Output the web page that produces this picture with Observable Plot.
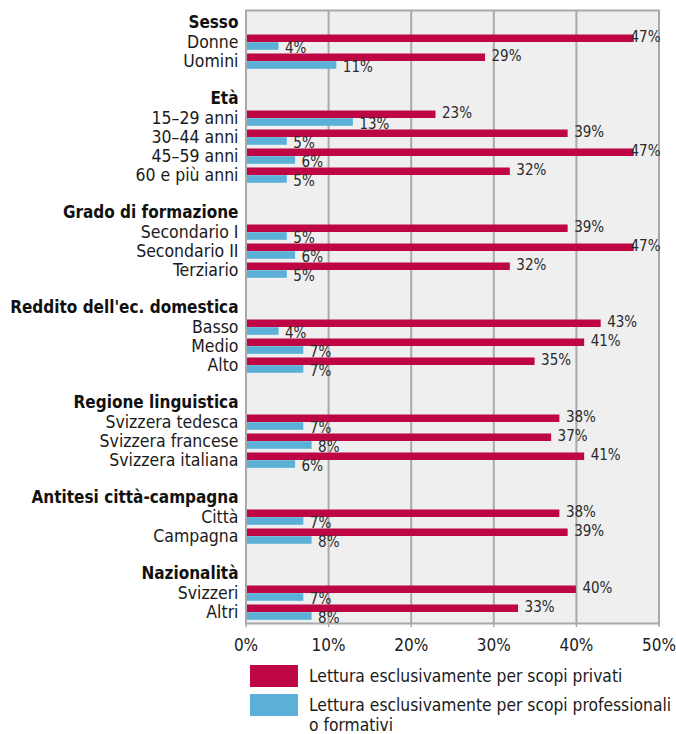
<!DOCTYPE html>
<html>
<head>
<meta charset="utf-8">
<script src="https://cdn.jsdelivr.net/npm/d3@7"></script>
<script src="https://cdn.jsdelivr.net/npm/@observablehq/plot@0.6"></script>
<style>
  html, body { margin: 0; padding: 0; background: #fff; }
  body { width: 676px; height: 734px; position: relative; overflow: hidden;
         font-family: "Liberation Sans Narrow", "DejaVu Sans Condensed", "Arial Narrow", sans-serif; color: #1a1a1a; }
  #chart { position: absolute; left: 0; top: 0; }
  .legend { position: absolute; left: 250px; font-size: 17.3px; line-height: 20px; }
  .legend .sw { position: absolute; left: 0; width: 48px; height: 22px; }
  .legend .lb { position: absolute; left: 59px; white-space: nowrap; }
</style>
</head>
<body>
<div id="chart"></div>
<div class="legend" id="legend"></div>
<script>
const groups = ["Sesso", "Età", "Grado di formazione", "Reddito dell'ec. domestica", "Regione linguistica", "Antitesi città-campagna", "Nazionalità"];
const categories = [
  ["Donne", "Uomini"],
  ["15–29 anni", "30–44 anni", "45–59 anni", "60 e più anni"],
  ["Secondario I", "Secondario II", "Terziario"],
  ["Basso", "Medio", "Alto"],
  ["Svizzera tedesca", "Svizzera francese", "Svizzera italiana"],
  ["Città", "Campagna"],
  ["Svizzeri", "Altri"]
];
const privati = [[47, 29], [23, 39, 47, 32], [39, 47, 32], [43, 41, 35], [38, 37, 41], [38, 39], [40, 33]];
const professionali = [[4, 11], [13, 5, 6, 5], [5, 6, 5], [4, 7, 7], [7, 8, 6], [7, 8], [7, 8]];
const xTicks = [0, 10, 20, 30, 40, 50];
const seriesNames = ["Lettura esclusivamente per scopi privati", "Lettura esclusivamente per scopi professionali<br>o formativi"];
const seriesColors = ["#be0644", "#5ab0d6"];

// Build slot table
const slots = [];
const headers = [];
const rows = [];
groups.forEach((g, i) => {
  const hk = "H:" + g;
  slots.push(hk);
  headers.push({key: hk, label: g});
  categories[i].forEach((c, j) => {
    const k = "C:" + g + ":" + c;
    slots.push(k);
    rows.push({key: k, label: c, priv: privati[i][j], prof: professionali[i][j]});
  });
  if (i < groups.length - 1) slots.push("S:" + i);
});

const font = "'Liberation Sans Narrow', 'DejaVu Sans Condensed', 'Arial Narrow', sans-serif";
const grid = "#a9a9a9";
const bigLabel = rows.filter(d => d.priv >= 45);
const smallLabel = rows.filter(d => d.priv < 45);

const plot = Plot.plot({
  width: 676,
  height: 660,
  marginTop: 10,
  marginBottom: 37,
  marginLeft: 245.5,
  marginRight: 17.5,
  style: {fontFamily: font, fontSize: "17px", color: "#1a1a1a", background: "transparent"},
  x: {domain: [0, 50]},
  y: {domain: slots, type: "band", padding: 0, axis: null},
  marks: [
    Plot.frame({fill: "#efefef"}),
    Plot.ruleX(xTicks, {stroke: grid, strokeWidth: 2}),
    Plot.barX(rows, {x: "priv", y: "key", fill: seriesColors[0], insetTop: 2.5, insetBottom: 9}),
    Plot.barX(rows, {x: "prof", y: "key", fill: seriesColors[1], insetTop: 10.2, insetBottom: 1.2}),
    Plot.frame({stroke: grid, strokeWidth: 2}),
    Plot.axisX({ticks: xTicks, tickFormat: d => d + "%", tickSize: 4, tickPadding: 11, stroke: grid, strokeWidth: 1.5, fontSize: 17, label: null, color: "#1a1a1a"}),
    Plot.text(smallLabel, {x: "priv", y: "key", text: d => d.priv + "%", textAnchor: "start", dx: 6, dy: -4.7, fontSize: 15, fill: "#2a2a2a"}),
    Plot.text(bigLabel, {x: 50, y: "key", text: d => d.priv + "%", textAnchor: "end", dx: 1.5, dy: -4.7, fontSize: 15, fill: "#2a2a2a"}),
    Plot.text(rows, {x: "prof", y: "key", text: d => d.prof + "%", textAnchor: "start", dx: 6, dy: 6.5, fontSize: 15, fill: "#2a2a2a"}),
    Plot.text(rows, {x: 0, y: "key", text: "label", textAnchor: "end", dx: -7.5, fontSize: 17.5, fill: "#1a1a1a"}),
    Plot.text(headers, {x: 0, y: "key", text: "label", textAnchor: "end", dx: -7.5, fontSize: 17, fontWeight: "bold", fill: "#111"})
  ]
});
document.getElementById("chart").appendChild(plot);

const legend = document.getElementById("legend");
legend.style.top = "665px";
seriesNames.forEach((name, i) => {
  const sw = document.createElement("div");
  sw.className = "sw";
  sw.style.top = (i * 29) + "px";
  sw.style.background = seriesColors[i];
  legend.appendChild(sw);
  const lb = document.createElement("div");
  lb.className = "lb";
  lb.style.top = (i * 29 + 1) + "px";
  lb.innerHTML = name;
  legend.appendChild(lb);
});
</script>
</body>
</html>
